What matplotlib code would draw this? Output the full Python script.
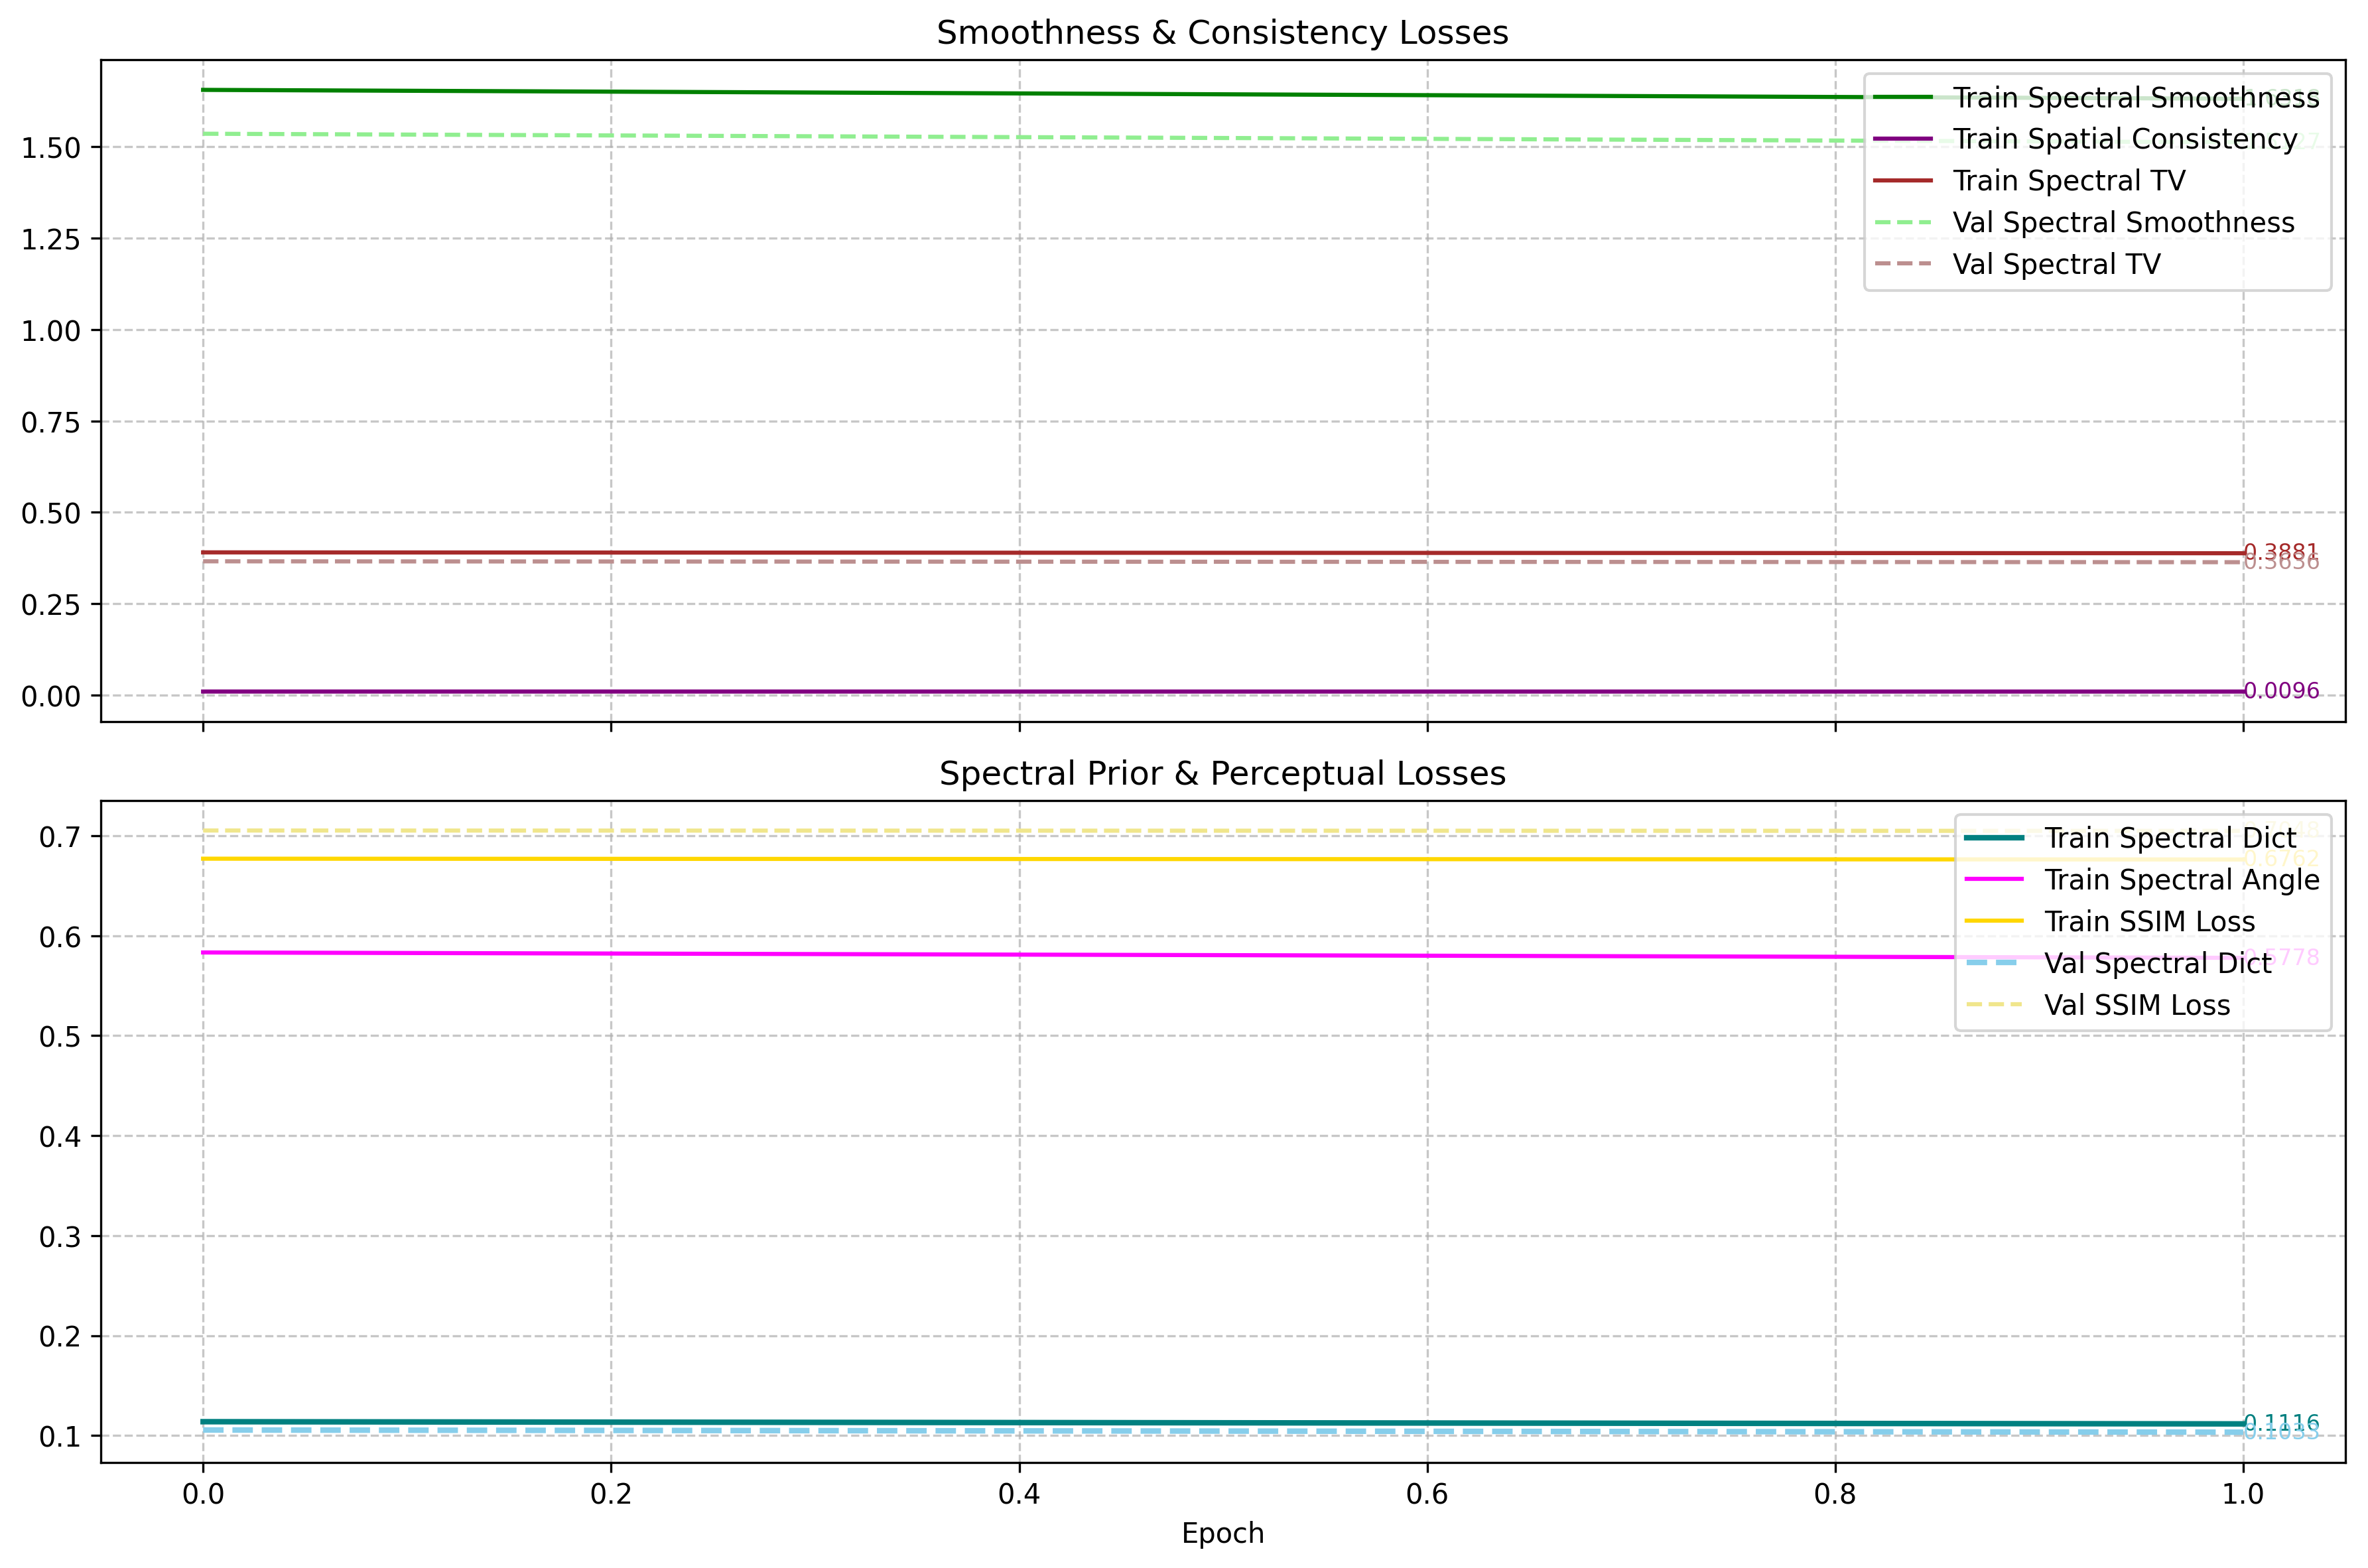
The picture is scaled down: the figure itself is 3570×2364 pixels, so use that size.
import matplotlib
matplotlib.use("Agg")
import matplotlib.pyplot as plt

epochs = [0, 1]

# Top panel
train_spec_smooth = [1.6560, 1.6318]
train_spatial = [0.0097, 0.0096]
train_spec_tv = [0.3905, 0.3881]
val_spec_smooth = [1.5360, 1.5127]
val_spec_tv = [0.3660, 0.3636]

# Bottom panel
train_spec_dict = [0.1138, 0.1116]
train_spec_angle = [0.5832, 0.5778]
train_ssim = [0.6770, 0.6762]
val_spec_dict = [0.1055, 0.1033]
val_ssim = [0.7052, 0.7048]

fig, (ax1, ax2) = plt.subplots(2, 1, figsize=(11.9, 7.883), sharex=True)

top_series = [
    ("Train Spectral Smoothness", train_spec_smooth, "green", "-", 1.5),
    ("Train Spatial Consistency", train_spatial, "purple", "-", 1.5),
    ("Train Spectral TV", train_spec_tv, "brown", "-", 1.5),
    ("Val Spectral Smoothness", val_spec_smooth, "lightgreen", "--", 1.5),
    ("Val Spectral TV", val_spec_tv, "rosybrown", "--", 1.5),
]
for label, vals, color, ls, lw in top_series:
    ax1.plot(epochs, vals, color=color, linestyle=ls, linewidth=lw, label=label)
    ax1.text(epochs[-1], vals[-1], f"{vals[-1]:.4f}", color=color, fontsize=8,
             ha="left", va="center")
ax1.set_title("Smoothness & Consistency Losses")
ax1.grid(True, linestyle="--", alpha=0.7)
ax1.legend(loc="upper right")

bottom_series = [
    ("Train Spectral Dict", train_spec_dict, "teal", "-", 2.0),
    ("Train Spectral Angle", train_spec_angle, "magenta", "-", 1.5),
    ("Train SSIM Loss", train_ssim, "gold", "-", 1.5),
    ("Val Spectral Dict", val_spec_dict, "skyblue", "--", 2.0),
    ("Val SSIM Loss", val_ssim, "khaki", "--", 1.5),
]
for label, vals, color, ls, lw in bottom_series:
    ax2.plot(epochs, vals, color=color, linestyle=ls, linewidth=lw, label=label)
    ax2.text(epochs[-1], vals[-1], f"{vals[-1]:.4f}", color=color, fontsize=8,
             ha="left", va="center")
ax2.set_title("Spectral Prior & Perceptual Losses")
ax2.set_xlabel("Epoch")
ax2.grid(True, linestyle="--", alpha=0.7)
ax2.legend(loc="upper right")

fig.subplots_adjust(left=0.0427, right=0.9904, top=0.9615, bottom=0.0674, hspace=0.119)
fig.savefig("out.png", dpi=300)
